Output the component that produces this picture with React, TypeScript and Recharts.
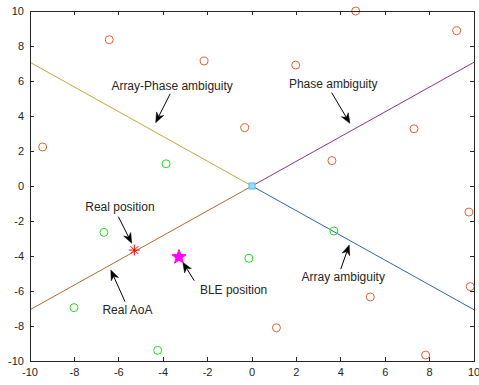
import React from "react";
import { ScatterChart, Scatter, XAxis, YAxis, ReferenceLine } from "recharts";

document.body.style.margin = "0";

const xTicks = [-10, -8, -6, -4, -2, 0, 2, 4, 6, 8, 10];
const yTicks = [-10, -8, -6, -4, -2, 0, 2, 4, 6, 8, 10];

// plot frame (MATLAB "box on")
const boxCorners = [
  { x: -10, y: -10 },
  { x: 10, y: -10 },
  { x: 10, y: 10 },
  { x: -10, y: 10 },
  { x: -10, y: -10 },
];

// ambiguity lines, all starting at the anchor (0,0)
const arrayPhaseLine = [{ x: 0, y: 0 }, { x: -10, y: 7.07 }];
const phaseLine = [{ x: 0, y: 0 }, { x: 10, y: 7.07 }];
const arrayLine = [{ x: 0, y: 0 }, { x: 10, y: -7.07 }];
const realAoaLine = [{ x: 0, y: 0 }, { x: -10, y: -7.07 }];

const orangeCircles = [
  { x: -9.43, y: 2.23 },
  { x: -6.43, y: 8.36 },
  { x: -2.16, y: 7.14 },
  { x: 4.67, y: 10.0 },
  { x: 9.22, y: 8.87 },
  { x: 1.97, y: 6.91 },
  { x: -0.33, y: 3.33 },
  { x: 7.3, y: 3.27 },
  { x: 3.6, y: 1.45 },
  { x: 9.77, y: -1.49 },
  { x: 9.83, y: -5.75 },
  { x: 5.33, y: -6.34 },
  { x: 1.1, y: -8.1 },
  { x: 7.82, y: -9.66 },
];

const greenCircles = [
  { x: -3.87, y: 1.27 },
  { x: -6.67, y: -2.65 },
  { x: -8.02, y: -6.95 },
  { x: -4.25, y: -9.39 },
  { x: -0.14, y: -4.13 },
  { x: 3.69, y: -2.57 },
];

const anchor = [{ x: 0, y: 0 }];
const realPosition = [{ x: -5.3, y: -3.66 }];
const blePosition = [{ x: -3.29, y: -4.06 }];

// text baseline at (labelX, labelY), arrow from tail to head
const labelNames = [
  "Array-Phase ambiguity",
  "Phase ambiguity",
  "Real position",
  "Real AoA",
  "BLE position",
  "Array ambiguity",
];
const labelX = [-3.6, 3.66, -5.95, -5.61, -0.83, 4.11];
const labelY = [5.46, 5.6, -1.45, -7.33, -6.19, -5.43];
const arrowTail = [
  { x: -3.69, y: 5.26 },
  { x: 3.59, y: 5.33 },
  { x: -6.02, y: -1.75 },
  { x: -5.72, y: -6.61 },
  { x: -2.6, y: -5.41 },
  { x: 4.0, y: -4.74 },
];
const arrowHead = [
  { x: -4.34, y: 3.62 },
  { x: 4.41, y: 3.58 },
  { x: -5.42, y: -3.27 },
  { x: -6.36, y: -4.8 },
  { x: -3.12, y: -4.36 },
  { x: 4.38, y: -3.37 },
];

const labelPoints = labelNames.map((label, i) => ({ x: labelX[i], y: labelY[i], label }));

const FONT = "'Liberation Sans', Arial, Helvetica, sans-serif";
const INK = "#262626";
const TICK_LEN = 4;

const noPoint = () => <g />;

const openCircle = (color: string) => (props: any) => (
  <circle cx={props.cx} cy={props.cy} r={4} fill="none" stroke={color} strokeWidth={1} />
);

const asterisk = (props: any) => {
  const { cx, cy } = props;
  const r = 5.5;
  const d = r * 0.707;
  return (
    <g stroke="#FF0000" strokeWidth={1}>
      <line x1={cx - r} y1={cy} x2={cx + r} y2={cy} />
      <line x1={cx} y1={cy - r} x2={cx} y2={cy + r} />
      <line x1={cx - d} y1={cy - d} x2={cx + d} y2={cy + d} />
      <line x1={cx - d} y1={cy + d} x2={cx + d} y2={cy - d} />
    </g>
  );
};

const pentagram = (props: any) => {
  const { cx, cy } = props;
  const outer = 7.5;
  const inner = 3.1;
  const pts: string[] = [];
  for (let i = 0; i < 10; i++) {
    const r = i % 2 === 0 ? outer : inner;
    const a = -Math.PI / 2 + (i * Math.PI) / 5;
    pts.push(`${cx + r * Math.cos(a)},${cy + r * Math.sin(a)}`);
  }
  return <polygon points={pts.join(" ")} fill="#FF00FF" stroke="#FF00FF" />;
};

const square = (props: any) => (
  <rect x={props.cx - 3} y={props.cy - 3} width={6} height={6} fill="#9FD8F2" stroke="#4DBEEE" strokeWidth={1} />
);

const labelText = (props: any) => (
  <text x={props.cx} y={props.cy} textAnchor="middle" fontSize={12} fontFamily={FONT} fill={INK}>
    {props.payload.label}
  </text>
);

const arrow = (props: any) => {
  const { x1, y1, x2, y2 } = props;
  const dx = x2 - x1;
  const dy = y2 - y1;
  const len = Math.sqrt(dx * dx + dy * dy);
  const ux = dx / len;
  const uy = dy / len;
  const hl = 10;
  const hw = 4;
  const notch = 3;
  const bx = x2 - ux * hl;
  const by = y2 - uy * hl;
  const nx = x2 - ux * (hl - notch);
  const ny = y2 - uy * (hl - notch);
  const pts = [
    `${x2},${y2}`,
    `${bx - uy * hw},${by + ux * hw}`,
    `${nx},${ny}`,
    `${bx + uy * hw},${by - ux * hw}`,
  ].join(" ");
  return (
    <g>
      <line x1={x1} y1={y1} x2={nx} y2={ny} stroke="#000" strokeWidth={1} />
      <polygon points={pts} fill="#000" stroke="#000" strokeWidth={0.5} />
    </g>
  );
};

// inward tick marks on both ends of a full-span reference line
const xTickMarks = (props: any) => {
  const { x1, y1, y2 } = props;
  const top = Math.min(y1, y2);
  const bottom = Math.max(y1, y2);
  return (
    <g stroke={INK} strokeWidth={1} shapeRendering="crispEdges">
      <line x1={x1} y1={top} x2={x1} y2={top + TICK_LEN} />
      <line x1={x1} y1={bottom - TICK_LEN} x2={x1} y2={bottom} />
    </g>
  );
};

const yTickMarks = (props: any) => {
  const { x1, x2, y1 } = props;
  const left = Math.min(x1, x2);
  const right = Math.max(x1, x2);
  return (
    <g stroke={INK} strokeWidth={1} shapeRendering="crispEdges">
      <line x1={left} y1={y1} x2={left + TICK_LEN} y2={y1} />
      <line x1={right - TICK_LEN} y1={y1} x2={right} y2={y1} />
    </g>
  );
};

const tickStyle = { fontSize: 11, fontFamily: FONT, fill: INK };

export default function App() {
  return (
    <div style={{ width: 479, height: 385, background: "#fff" }}>
      <ScatterChart width={479} height={385} margin={{ top: 11, right: 5, bottom: 0, left: 0 }}>
        <XAxis
          type="number"
          dataKey="x"
          domain={[-10, 10]}
          ticks={xTicks}
          height={24}
          tickSize={0}
          tickMargin={7}
          tick={tickStyle}
          axisLine={{ stroke: INK, shapeRendering: "crispEdges" }}
          tickLine={false}
          interval={0}
        />
        <YAxis
          type="number"
          dataKey="y"
          domain={[-10, 10]}
          ticks={yTicks}
          width={30}
          tickSize={0}
          tickMargin={6}
          tick={tickStyle}
          axisLine={{ stroke: INK, shapeRendering: "crispEdges" }}
          tickLine={false}
          interval={0}
        />

        <Scatter data={arrayPhaseLine} line={{ stroke: "#C9A53A", strokeWidth: 1 }} shape={noPoint} isAnimationActive={false} />
        <Scatter data={phaseLine} line={{ stroke: "#8A3590", strokeWidth: 1 }} shape={noPoint} isAnimationActive={false} />
        <Scatter data={arrayLine} line={{ stroke: "#2B66B0", strokeWidth: 1 }} shape={noPoint} isAnimationActive={false} />
        <Scatter data={realAoaLine} line={{ stroke: "#B8672C", strokeWidth: 1 }} shape={noPoint} isAnimationActive={false} />

        <Scatter data={orangeCircles} shape={openCircle("#E0622F")} isAnimationActive={false} />
        <Scatter data={greenCircles} shape={openCircle("#22DD22")} isAnimationActive={false} />
        <Scatter data={anchor} shape={square} isAnimationActive={false} />
        <Scatter data={realPosition} shape={asterisk} isAnimationActive={false} />
        <Scatter data={blePosition} shape={pentagram} isAnimationActive={false} />

        {arrowTail.map((t, i) => (
          <ReferenceLine key={`arrow-${i}`} segment={[t, arrowHead[i]]} shape={arrow} ifOverflow="visible" />
        ))}
        <Scatter data={labelPoints} shape={labelText} isAnimationActive={false} />

        {xTicks.map((t) => (
          <ReferenceLine key={`xt-${t}`} x={t} shape={xTickMarks} />
        ))}
        {yTicks.map((t) => (
          <ReferenceLine key={`yt-${t}`} y={t} shape={yTickMarks} />
        ))}
        <Scatter
          data={boxCorners}
          line={{ stroke: INK, strokeWidth: 1, shapeRendering: "crispEdges" }}
          shape={noPoint}
          isAnimationActive={false}
        />
      </ScatterChart>
    </div>
  );
}
